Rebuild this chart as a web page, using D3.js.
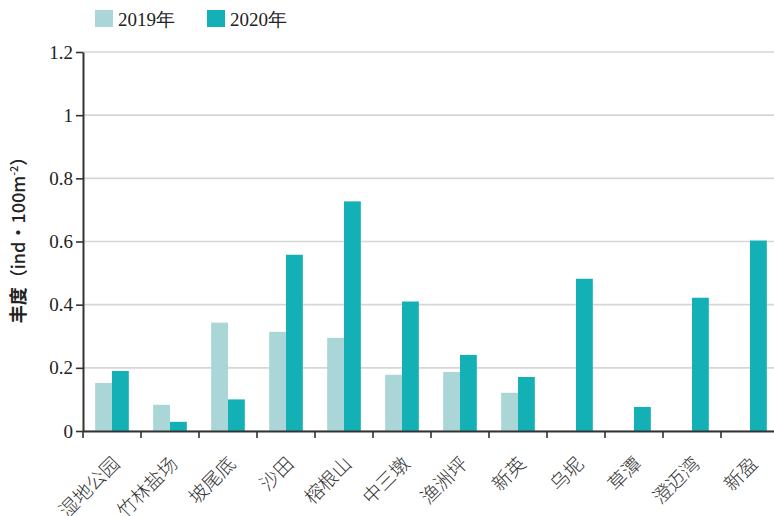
<!DOCTYPE html>
<html>
<head>
<meta charset="utf-8">
<script src="https://cdn.jsdelivr.net/npm/d3@7"></script>
<style>
  body { margin: 0; background: #fff; }
  svg { display: block; }
</style>
</head>
<body>
<div id="chart"></div>
<script>
// chart data
const sites = ["湿地公园", "竹林盐场", "坡尾底", "沙田", "榕根山", "中三墩", "渔洲坪", "新英", "乌坭", "草潭", "澄迈湾", "新盈"];
const years = ["2019年", "2020年"];
const v2019 = [0.152, 0.083, 0.343, 0.314, 0.295, 0.178, 0.187, 0.121, 0, 0, 0, 0];
const v2020 = [0.190, 0.029, 0.100, 0.558, 0.727, 0.410, 0.241, 0.171, 0.482, 0.076, 0.422, 0.603];
const yTicks = [0, 0.2, 0.4, 0.6, 0.8, 1, 1.2];
const colors = ["#abd6d7", "#13b1b5"];

const width = 774, height = 516;
const margins = {left: 83, top: 52, right: -5, bottom: 85};
const w = width - margins.left - margins.right;
const h = height - margins.top - margins.bottom;

const svg = d3.select("#chart").append("svg")
  .attr("width", width)
  .attr("height", height);

const g = svg.append("g")
  .attr("transform", "translate(" + margins.left + "," + margins.top + ")");

const x0 = d3.scaleBand().domain(sites).range([0, w]).padding(0);
const x1 = d3.scaleBand().domain(years)
  .range([x0.bandwidth() * 0.21, x0.bandwidth() * 0.79]).padding(0);
const y = d3.scaleLinear().domain([0, 1.2]).range([h, 0]);

// grid
g.append("g")
  .selectAll("line")
  .data(yTicks)
  .enter().append("line")
  .attr("x1", 0).attr("x2", w)
  .attr("y1", d => y(d)).attr("y2", d => y(d))
  .attr("stroke", "#d6d6d6")
  .attr("stroke-width", 1.6);

// bars
const rows = sites.map((s, i) => ({site: s, vals: [v2019[i], v2020[i]]}));
const grp = g.append("g").selectAll("g")
  .data(rows)
  .enter().append("g")
  .attr("transform", d => "translate(" + x0(d.site) + ",0)");

grp.selectAll("rect")
  .data(d => d.vals.map((v, k) => ({key: years[k], v: v, k: k})))
  .enter().append("rect")
  .attr("x", d => x1(d.key))
  .attr("width", x1.bandwidth())
  .attr("y", d => y(d.v))
  .attr("height", d => h - y(d.v))
  .attr("fill", d => colors[d.k]);

// y axis
const yAxis = g.append("g")
  .call(d3.axisLeft(y).tickValues(yTicks).tickFormat(d3.format("")).tickSize(7).tickSizeOuter(0));
yAxis.select(".domain").attr("stroke", "#333").attr("stroke-width", 2);
yAxis.selectAll(".tick line").attr("stroke", "#333").attr("stroke-width", 1.6);
yAxis.selectAll(".tick text")
  .attr("x", -10)
  .style("font-family", "'Liberation Serif', 'Times New Roman', serif")
  .style("font-size", "19px")
  .attr("fill", "#222");

// x axis
const xAxis = g.append("g")
  .attr("transform", "translate(0," + h + ")")
  .call(d3.axisBottom(x0).tickSize(0).tickSizeOuter(0).tickFormat(""));
xAxis.select(".domain").attr("stroke", "#333").attr("stroke-width", 2);

g.append("g")
  .attr("transform", "translate(0," + h + ")")
  .selectAll("line")
  .data(d3.range(sites.length + 1))
  .enter().append("line")
  .attr("x1", d => d * x0.step()).attr("x2", d => d * x0.step())
  .attr("y1", 0).attr("y2", 7)
  .attr("stroke", "#333")
  .attr("stroke-width", 1.6);

g.append("g")
  .selectAll("text")
  .data(sites)
  .enter().append("text")
  .attr("transform", d => "translate(" + (x0(d) + x0.bandwidth() / 2 + 9) + "," + (h + 34) + ") rotate(-45)")
  .attr("text-anchor", "end")
  .style("font-family", "'Noto Sans CJK SC', sans-serif")
  .style("font-weight", 300)
  .style("font-size", "19px")
  .attr("fill", "#333")
  .text(d => d);

// y title
const title = svg.append("text")
  .attr("transform", "translate(25," + (margins.top + h / 2 - 6) + ") rotate(-90)")
  .attr("text-anchor", "middle")
  .style("font-family", "'Noto Sans CJK SC', sans-serif")
  .style("font-size", "18px")
  .style("font-weight", 500)
  .attr("fill", "#222");
title.append("tspan").style("font-weight", 700).text("丰度");
title.append("tspan").text("（ind·100m");
title.append("tspan").attr("dy", -7).style("font-size", "11px").text("-2");
title.append("tspan").attr("dy", 7).text("）");

// legend
const legend = svg.append("g").selectAll("g")
  .data(years)
  .enter().append("g")
  .attr("transform", (d, i) => "translate(" + (95 + i * 112) + ",10)");

legend.append("rect")
  .attr("width", 18).attr("height", 17)
  .attr("fill", (d, i) => colors[i]);

legend.append("text")
  .attr("x", 23).attr("y", 16)
  .style("font-family", "'Liberation Serif', 'Times New Roman', serif")
  .style("font-size", "19px")
  .attr("fill", "#222")
  .text(d => d);
</script>
</body>
</html>
